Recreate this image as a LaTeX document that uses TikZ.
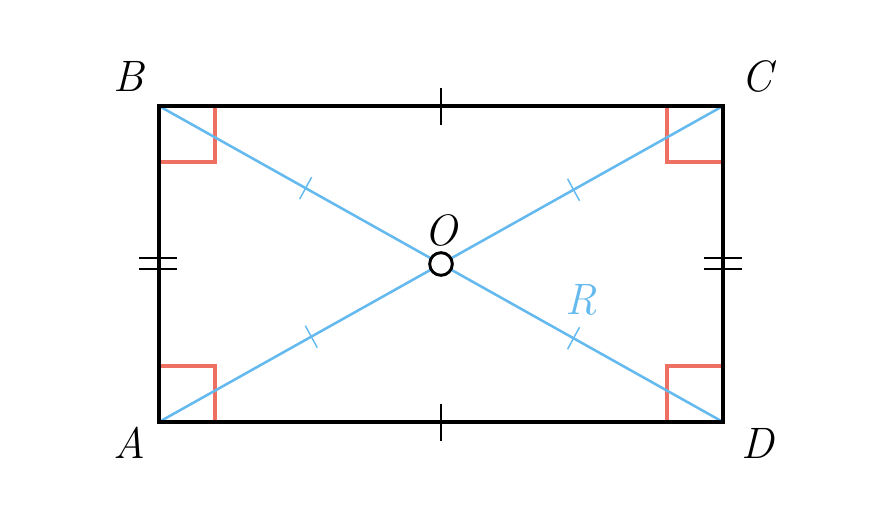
\documentclass[tikz,border=0pt]{standalone}
\usepackage{fontspec}
\usetikzlibrary{positioning}
\definecolor{diagblue}{RGB}{100,186,238}
\definecolor{anglered}{RGB}{238,112,98}
\newcommand{\lbl}{\fontsize{33}{40}\selectfont\itshape}

\begin{document}
\begin{tikzpicture}[x=0.75pt,y=-0.75pt]
  \tikzset{side/.style={line width=2.4pt,black},
    diag/.style={line width=1.9pt,diagblue},
    rightmark/.style={line width=2.6pt,anglered},
    tick/.style={line width=1.6pt,black},
    btick/.style={line width=1.1pt,diagblue}}%styles of the figure
  \useasboundingbox (0,0) rectangle (882,528);
  \coordinate (A) at (159,422);
  \coordinate (B) at (159,106);
  \coordinate (C) at (723,106);
  \coordinate (D) at (723,422);
  \coordinate (O) at (441,264);
  % right angles
  \draw[rightmark] (159,162) -- (215,162) -- (215,106);
  \draw[rightmark] (723,162) -- (667,162) -- (667,106);
  \draw[rightmark] (159,366) -- (215,366) -- (215,422);
  \draw[rightmark] (723,366) -- (667,366) -- (667,422);
  % diagonals
  \draw[diag] (B) -- (O) coordinate[pos=0.52] (t1);
  \draw[diag] (O) -- (C) coordinate[pos=0.47] (t2);
  \draw[diag] (A) -- (O) coordinate[pos=0.54] (t3);
  \draw[diag] (O) -- (D) coordinate[pos=0.47] (t4);
  \draw[btick] (t1) ++(6,-11) -- ++(-12,22);
  \draw[btick] (t2) ++(-6,-11) -- ++(12,22);
  \draw[btick] (t3) ++(6,11) -- ++(-12,-22);
  \draw[btick] (t4) ++(-6,11) -- ++(12,-22);
  % rectangle
  \draw[side] (A) -- (B) -- (C) -- (D) -- cycle;
  \draw[tick] (441,88) -- (441,125);
  \draw[tick] (441,404) -- (441,441);
  \draw[tick] (139,258) -- (177,258) (139,269) -- (177,269);
  \draw[tick] (704,258) -- (742,258) (704,269) -- (742,269);
  \node (o) at (O) [circle,draw,line width=2.2pt,fill=white,inner sep=0pt,minimum size=17pt] {};
  \node (lA) at (129,443) {\lbl A};
  \node (lB) at (129,76) {\lbl B};
  \node (lC) at (757,76) {\lbl C};
  \node (lD) at (758,443) {\lbl D};
  \node (lO) [above=0pt of o] {\lbl O};
  \node (lR) at (581,300) {\lbl\color{diagblue}R};
\end{tikzpicture}
\end{document}
